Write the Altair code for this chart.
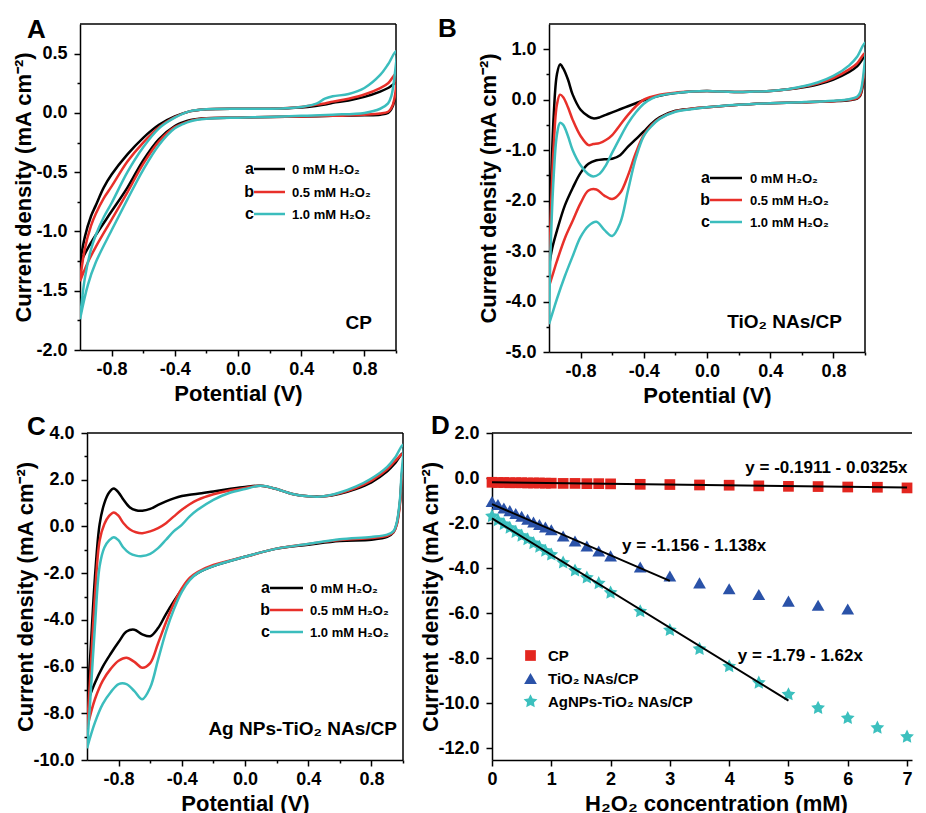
import altair as alt
import pandas as pd

FONT = "Liberation Sans"
CURVES = ["a", "b", "c"]
CURVE_COLORS = ["#000000", "#E8302A", "#3BBDBD"]
CURVE_LABELS = ["0 mM H₂O₂", "0.5 mM H₂O₂", "1.0 mM H₂O₂"]
Y_TITLE = "Current density (mA cm⁻²)"
X_TITLE_CV = "Potential (V)"

# ---------------- Panel A : CP ----------------
A_FWD_X = [-1.0, -0.97, -0.93, -0.9, -0.85, -0.8, -0.7, -0.6, -0.5, -0.4, -0.3, -0.2, 0.0, 0.2, 0.4, 0.5, 0.55, 0.6, 0.7, 0.8, 0.9, 0.95, 1.0]
A_FWD_a = [-1.27, -1.05, -0.87, -0.78, -0.63, -0.52, -0.35, -0.21, -0.10, -0.03, 0.015, 0.03, 0.035, 0.035, 0.045, 0.06, 0.07, 0.085, 0.105, 0.135, 0.18, 0.21, 0.25]
A_FWD_b = [-1.42, -1.15, -0.95, -0.85, -0.72, -0.62, -0.41, -0.25, -0.12, -0.035, 0.015, 0.03, 0.035, 0.035, 0.05, 0.07, 0.08, 0.095, 0.12, 0.155, 0.21, 0.25, 0.33]
A_FWD_c = [-1.74, -1.40, -1.15, -1.03, -0.88, -0.76, -0.50, -0.29, -0.13, -0.04, 0.015, 0.03, 0.035, 0.035, 0.05, 0.08, 0.12, 0.14, 0.16, 0.21, 0.32, 0.41, 0.52]
A_REV_X = [1.0, 0.99, 0.97, 0.95, 0.9, 0.8, 0.6, 0.4, 0.2, 0.0, -0.2, -0.3, -0.35, -0.4, -0.5, -0.6, -0.7, -0.8, -0.9, -0.95, -1.0]
A_REV_a = [0.25, 0.10, 0.03, 0.0, -0.015, -0.02, -0.025, -0.03, -0.035, -0.04, -0.045, -0.06, -0.08, -0.11, -0.22, -0.40, -0.63, -0.83, -1.03, -1.14, -1.27]
A_REV_b = [0.33, 0.12, 0.04, 0.01, -0.005, -0.015, -0.025, -0.03, -0.035, -0.04, -0.045, -0.065, -0.09, -0.12, -0.24, -0.43, -0.67, -0.90, -1.13, -1.26, -1.42]
A_REV_c = [0.52, 0.30, 0.14, 0.08, 0.035, 0.0, -0.015, -0.025, -0.035, -0.04, -0.05, -0.07, -0.095, -0.13, -0.27, -0.48, -0.73, -0.99, -1.26, -1.45, -1.74]

# ---------------- Panel B : TiO2 NAs/CP ----------------
B_FWD_X = [-1.0, -0.99, -0.97, -0.95, -0.93, -0.91, -0.88, -0.85, -0.8, -0.75, -0.72, -0.68, -0.64, -0.6, -0.55, -0.5, -0.45, -0.4, -0.35, -0.3, -0.2, -0.1, 0.0, 0.1, 0.2, 0.3, 0.4, 0.5, 0.6, 0.7, 0.8, 0.9, 0.95, 1.0]
B_FWD_a = [-3.3, -2.0, -0.3, 0.5, 0.7, 0.62, 0.4, 0.1, -0.2, -0.33, -0.37, -0.35, -0.3, -0.25, -0.19, -0.13, -0.07, -0.01, 0.04, 0.08, 0.13, 0.16, 0.17, 0.16, 0.15, 0.16, 0.17, 0.2, 0.24, 0.3, 0.4, 0.55, 0.66, 0.85]
B_FWD_b = [-3.7, -2.4, -0.9, -0.1, 0.1, 0.05, -0.15, -0.4, -0.72, -0.9, -0.88, -0.86, -0.8, -0.7, -0.5, -0.3, -0.13, 0.0, 0.06, 0.1, 0.14, 0.16, 0.17, 0.16, 0.15, 0.16, 0.17, 0.2, 0.25, 0.32, 0.43, 0.6, 0.72, 0.92]
B_FWD_c = [-4.45, -3.0, -1.5, -0.7, -0.46, -0.5, -0.72, -1.0, -1.3, -1.48, -1.52, -1.47, -1.3, -1.05, -0.75, -0.47, -0.25, -0.08, 0.02, 0.08, 0.13, 0.16, 0.17, 0.16, 0.15, 0.16, 0.17, 0.2, 0.26, 0.34, 0.47, 0.68, 0.85, 1.13]
B_REV_X = [1.0, 0.99, 0.97, 0.95, 0.9, 0.8, 0.6, 0.4, 0.2, 0.0, -0.1, -0.2, -0.3, -0.35, -0.4, -0.45, -0.5, -0.55, -0.6, -0.65, -0.7, -0.75, -0.8, -0.85, -0.9, -0.95, -0.98, -1.0]
B_REV_a = [0.85, 0.35, 0.08, 0.02, -0.01, -0.03, -0.05, -0.07, -0.10, -0.15, -0.18, -0.22, -0.35, -0.47, -0.63, -0.78, -0.93, -1.1, -1.17, -1.18, -1.2, -1.27, -1.45, -1.75, -2.1, -2.6, -2.95, -3.3]
B_REV_b = [0.92, 0.4, 0.1, 0.03, 0.0, -0.03, -0.05, -0.07, -0.10, -0.15, -0.18, -0.23, -0.37, -0.5, -0.7, -1.05, -1.5, -1.85, -1.97, -1.9, -1.78, -1.8, -2.05, -2.4, -2.75, -3.2, -3.5, -3.7]
B_REV_c = [1.13, 0.5, 0.15, 0.06, 0.01, -0.02, -0.05, -0.07, -0.10, -0.15, -0.19, -0.24, -0.38, -0.52, -0.72, -1.15, -1.8, -2.45, -2.7, -2.58, -2.42, -2.5, -2.72, -3.1, -3.5, -3.95, -4.25, -4.45]

# ---------------- Panel C : Ag NPs-TiO2 NAs/CP ----------------
C_FWD_X = [-1.0, -0.98, -0.95, -0.92, -0.89, -0.86, -0.83, -0.8, -0.77, -0.73, -0.69, -0.65, -0.6, -0.55, -0.5, -0.45, -0.4, -0.35, -0.3, -0.2, -0.1, 0.0, 0.1, 0.2, 0.3, 0.4, 0.5, 0.6, 0.7, 0.8, 0.9, 0.95, 1.0]
C_FWD_a = [-7.57, -5.6, -2.2, 0.1, 1.0, 1.45, 1.62, 1.45, 1.15, 0.82, 0.69, 0.67, 0.75, 0.92, 1.07, 1.2, 1.3, 1.36, 1.4, 1.5, 1.6, 1.69, 1.74, 1.6, 1.39, 1.29, 1.29, 1.4, 1.6, 1.89, 2.36, 2.71, 3.14]
C_FWD_b = [-8.64, -6.5, -3.0, -0.6, 0.1, 0.45, 0.6, 0.45, 0.15, -0.12, -0.25, -0.29, -0.21, -0.07, 0.14, 0.43, 0.71, 0.95, 1.14, 1.38, 1.54, 1.65, 1.74, 1.6, 1.39, 1.29, 1.29, 1.42, 1.64, 1.96, 2.45, 2.8, 3.1]
C_FWD_c = [-9.5, -7.5, -4.3, -1.7, -0.9, -0.6, -0.46, -0.6, -0.9, -1.15, -1.25, -1.27, -1.17, -0.93, -0.57, -0.2, 0.07, 0.43, 0.71, 1.14, 1.43, 1.6, 1.74, 1.6, 1.39, 1.29, 1.29, 1.45, 1.7, 2.05, 2.55, 2.95, 3.5]
C_REV_X = [1.0, 0.99, 0.98, 0.96, 0.94, 0.9, 0.8, 0.6, 0.4, 0.2, 0.0, -0.2, -0.3, -0.35, -0.4, -0.45, -0.5, -0.55, -0.6, -0.65, -0.7, -0.75, -0.8, -0.85, -0.9, -0.95, -1.0]
C_REV_a = [3.14, 2.0, 1.0, 0.1, -0.25, -0.45, -0.57, -0.62, -0.78, -0.95, -1.3, -1.7, -2.0, -2.25, -2.7, -3.2, -3.75, -4.35, -4.7, -4.62, -4.42, -4.5, -4.95, -5.45, -6.0, -6.7, -7.57]
C_REV_b = [3.1, 1.9, 0.9, 0.05, -0.25, -0.4, -0.5, -0.58, -0.75, -0.95, -1.3, -1.65, -1.95, -2.2, -2.65, -3.3, -4.1, -5.0, -5.85, -6.05, -5.8, -5.62, -5.75, -6.1, -6.6, -7.4, -8.64]
C_REV_c = [3.5, 2.2, 1.1, 0.15, -0.2, -0.35, -0.45, -0.55, -0.75, -0.95, -1.3, -1.7, -2.0, -2.3, -2.8, -3.55, -4.5, -5.7, -6.9, -7.4, -7.05, -6.75, -6.75, -7.1, -7.6, -8.4, -9.5]

# ---------------- Panel D : calibration ----------------
D_SERIES = ["CP", "TiO₂ NAs/CP", "AgNPs-TiO₂ NAs/CP"]
D_COLORS = ["#E3261F", "#2A52A8", "#3CC0BE"]
D_X_CP = [0, 0.1, 0.2, 0.3, 0.4, 0.5, 0.6, 0.7, 0.8, 0.9, 1.0, 1.2, 1.4, 1.6, 1.8, 2.0, 2.5, 3.0, 3.5, 4.0, 4.5, 5.0, 5.5, 6.0, 6.5, 7.0]
D_Y_CP = [-0.19, -0.20, -0.20, -0.21, -0.21, -0.21, -0.22, -0.22, -0.22, -0.23, -0.23, -0.24, -0.24, -0.25, -0.25, -0.26, -0.28, -0.29, -0.31, -0.32, -0.35, -0.37, -0.38, -0.40, -0.41, -0.44]
D_X_TIO2 = [0, 0.1, 0.2, 0.3, 0.4, 0.5, 0.6, 0.7, 0.8, 0.9, 1.0, 1.2, 1.4, 1.6, 1.8, 2.0, 2.5, 3.0, 3.5, 4.0, 4.5, 5.0, 5.5, 6.0]
D_Y_TIO2 = [-1.04, -1.18, -1.33, -1.45, -1.58, -1.70, -1.83, -1.95, -2.07, -2.18, -2.30, -2.58, -2.80, -3.02, -3.24, -3.46, -3.95, -4.35, -4.66, -4.92, -5.18, -5.47, -5.65, -5.82]
D_X_AG = [0, 0.1, 0.2, 0.3, 0.4, 0.5, 0.6, 0.7, 0.8, 0.9, 1.0, 1.2, 1.4, 1.6, 1.8, 2.0, 2.5, 3.0, 3.5, 4.0, 4.5, 5.0, 5.5, 6.0, 6.5, 7.0]
D_Y_AG = [-1.70, -1.88, -2.05, -2.22, -2.40, -2.57, -2.73, -2.90, -3.06, -3.24, -3.41, -3.76, -4.12, -4.43, -4.68, -5.10, -5.93, -6.76, -7.60, -8.37, -9.10, -9.62, -10.22, -10.67, -11.10, -11.50]
FIT_X_CP = [0, 7]
FIT_Y_CP = [-0.19, -0.42]
FIT_X_TIO2 = [0, 3]
FIT_Y_TIO2 = [-1.16, -4.57]
FIT_X_AG = [0, 5]
FIT_Y_AG = [-1.79, -9.89]
EQ_TEXT = ["y = -0.1911 - 0.0325x", "y = -1.156 - 1.138x", "y = -1.79 - 1.62x"]
EQ_X = [5.64, 3.41, 5.2]
EQ_Y = [0.44, -3.04, -7.93]

STAR = ("M0,-1L0.2939,-0.4045L0.9511,-0.309L0.4755,0.1545L0.5878,0.809L0,0.5"
        "L-0.5878,0.809L-0.4755,0.1545L-0.9511,-0.309L-0.2939,-0.4045Z")

X_TICKS_CV = [-0.8, -0.6, -0.4, -0.2, 0.0, 0.2, 0.4, 0.6, 0.8, 1.0]
A_Y_TICKS = [-2.0, -1.75, -1.5, -1.25, -1.0, -0.75, -0.5, -0.25, 0.0, 0.25, 0.5]
B_Y_TICKS = [-5.0, -4.5, -4.0, -3.5, -3.0, -2.5, -2.0, -1.5, -1.0, -0.5, 0.0, 0.5, 1.0]
C_Y_TICKS = [float(v) for v in range(-10, 5)]
D_Y_TICKS = [float(v) for v in range(-12, 3)]
D_X_TICKS = [v * 0.5 for v in range(15)]

ONE = pd.DataFrame({"k": [0]})


def make_axis(title, values, test, fmt, extent, title_pad, label_pad, **kw):
    return alt.Axis(
        title=title, values=values,
        labelExpr=f"({test}) ? replace(format(datum.value, '{fmt}'), '\u2212', '-') : ''",
        tickSize={"condition": {"test": test, "value": 6}, "value": 3},
        minExtent=extent, maxExtent=extent,
        titlePadding=title_pad, labelPadding=label_pad,
        labelOverlap=False, labelFlush=False, **kw)


def cv_df(fx, fys, rx, rys):
    rows = []
    for name, fy, ry in zip(CURVES, fys, rys):
        pts = list(zip(fx, fy)) + list(zip(rx, ry))[1:]
        for i, (x, y) in enumerate(pts):
            rows.append({"curve": name, "order": i, "x": x, "y": y})
    return pd.DataFrame(rows)


def text_at(txt, x, y, size, align="left", color="black"):
    return alt.Chart(ONE).mark_text(
        text=txt, fontSize=size, fontWeight="bold", align=align,
        baseline="alphabetic", color=color).encode(x=alt.value(x), y=alt.value(y))


def frame(w, h, right=True):
    layers = [alt.Chart(ONE).mark_rule(color="black", strokeWidth=1.5).encode(
        x=alt.value(0), x2=alt.value(w), y=alt.value(0))]
    if right:
        layers.append(alt.Chart(ONE).mark_rule(color="black", strokeWidth=1.5).encode(
            x=alt.value(w), y=alt.value(0), y2=alt.value(h)))
    return layers


def cv_panel(df, ydom, yticks, ytest, yext, w, h, letter, letter_xy, sample, sample_xy, leg_x, leg_y):
    xaxis = make_axis(X_TITLE_CV, X_TICKS_CV,
                      "abs(datum.value) < 0.95 && round(datum.value*10) % 4 == 0",
                      ".1f", 32, 1, 4)
    yaxis = make_axis(Y_TITLE, yticks, ytest, ".1f", yext, 2, 7)
    lines = alt.Chart(df).mark_line(strokeWidth=2.5, interpolate="catmull-rom", clip=True).encode(
        x=alt.X("x:Q", scale=alt.Scale(domain=[-1, 1], nice=False, zero=False), axis=xaxis),
        y=alt.Y("y:Q", scale=alt.Scale(domain=ydom, nice=False, zero=False), axis=yaxis),
        color=alt.Color("curve:N", scale=alt.Scale(domain=CURVES, range=CURVE_COLORS), legend=None),
        order="order:Q",
    )
    layers = frame(w, h) + [lines]
    layers.append(text_at(letter, letter_xy[0], letter_xy[1], 26))
    layers.append(text_at(sample, sample_xy[0], sample_xy[1], 19, align="right"))
    for i in range(3):
        yy = leg_y[i]
        layers.append(alt.Chart(ONE).mark_rule(color=CURVE_COLORS[i], strokeWidth=2.5).encode(
            x=alt.value(leg_x[0]), x2=alt.value(leg_x[1]), y=alt.value(yy)))
        layers.append(text_at(CURVES[i], leg_x[0], yy + 5, 16, align="right"))
        layers.append(text_at(CURVE_LABELS[i], leg_x[2], yy + 5, 13))
    return alt.layer(*layers).properties(width=w, height=h)


A_df = cv_df(A_FWD_X, [A_FWD_a, A_FWD_b, A_FWD_c], A_REV_X, [A_REV_a, A_REV_b, A_REV_c])
B_df = cv_df(B_FWD_X, [B_FWD_a, B_FWD_b, B_FWD_c], B_REV_X, [B_REV_a, B_REV_b, B_REV_c])
C_df = cv_df(C_FWD_X, [C_FWD_a, C_FWD_b, C_FWD_c], C_REV_X, [C_REV_a, C_REV_b, C_REV_c])

panel_A = cv_panel(A_df, [-2.0, 0.75], A_Y_TICKS, "round(datum.value*4) % 2 == 0", 43,
                   316, 326, "A", (-53, 14), "CP", (292, 305),
                   (174, 205, 212), (145, 168, 190))
panel_B = cv_panel(B_df, [-5.0, 1.5], B_Y_TICKS, "round(datum.value*2) % 2 == 0", 47,
                   316, 328, "B", (-111, 13), "TiO₂ NAs/CP", (293, 304),
                   (161, 193, 201), (154, 176, 198))
panel_C = cv_panel(C_df, [-10.0, 4.0], C_Y_TICKS, "round(datum.value) % 2 == 0", 48,
                   316, 327, "C", (-60, 2), "Ag NPs-TiO₂ NAs/CP", (310, 302),
                   (183, 216, 223), (155, 177, 199))

# ---- Panel D ----
D_W, D_H = 420, 327
pts_rows = []
for s, xs, ys in zip(D_SERIES, [D_X_CP, D_X_TIO2, D_X_AG], [D_Y_CP, D_Y_TIO2, D_Y_AG]):
    for x, y in zip(xs, ys):
        pts_rows.append({"series": s, "x": x, "y": y})
D_pts = pd.DataFrame(pts_rows)
fit_rows = []
for s, xs, ys in zip(D_SERIES, [FIT_X_CP, FIT_X_TIO2, FIT_X_AG], [FIT_Y_CP, FIT_Y_TIO2, FIT_Y_AG]):
    for x, y in zip(xs, ys):
        fit_rows.append({"series": s, "x": x, "y": y})
D_fit = pd.DataFrame(fit_rows)
D_eq = pd.DataFrame({"text": EQ_TEXT, "x": EQ_X, "y": EQ_Y})

d_xscale = alt.Scale(domain=[0, D_W / 59.29], nice=False, zero=False)
d_yscale = alt.Scale(domain=[-12.53, 2.0], nice=False, zero=False)
d_legend = alt.Legend(orient="none", legendX=31, legendY=215, title=None,
                      labelFontSize=15, labelFontWeight="bold", labelColor="black",
                      symbolStrokeWidth=0, symbolOpacity=1, padding=0, rowPadding=7,
                      labelOffset=10)

d_points = alt.Chart(D_pts).mark_point(filled=True, opacity=1, strokeWidth=0).encode(
    x=alt.X("x:Q", scale=d_xscale,
            axis=make_axis("H₂O₂ concentration (mM)", D_X_TICKS,
                           "round(datum.value*2) % 2 == 0", "d", 32, 1, 4, titleX=224)),
    y=alt.Y("y:Q", scale=d_yscale,
            axis=make_axis(Y_TITLE, D_Y_TICKS, "round(datum.value) % 2 == 0", ".1f", 48, 2, 7)),
    color=alt.Color("series:N", scale=alt.Scale(domain=D_SERIES, range=D_COLORS), legend=d_legend),
    shape=alt.Shape("series:N", scale=alt.Scale(domain=D_SERIES, range=["square", "triangle-up", STAR]), legend=d_legend),
    size=alt.Size("series:N", scale=alt.Scale(domain=D_SERIES, range=[115, 210, 430]), legend=d_legend),
)
d_fit = alt.Chart(D_fit).mark_line(color="black", strokeWidth=2).encode(
    x="x:Q", y="y:Q", detail="series:N")
d_eq = alt.Chart(D_eq).mark_text(fontSize=17, fontWeight="bold", color="black",
                                 align="center", baseline="middle").encode(
    x=alt.X("x:Q"), y=alt.Y("y:Q"), text="text:N")

panel_D = alt.layer(*(frame(D_W, D_H, right=False) + [d_points, d_fit, d_eq,
                      text_at("D", -61, 1, 26)])).properties(width=D_W, height=D_H)

# tiny invisible spacer: lets the lower row start a few pixels right of the upper one
spacer = alt.Chart(ONE).mark_text(text="").encode(
    x=alt.value(0), y=alt.value(0)).properties(width=1, height=1)

IND = dict(color="independent", shape="independent", size="independent")
row1 = alt.hconcat(panel_A, panel_B, spacing=41).resolve_scale(**IND).resolve_legend(**IND)
row2_inner = alt.hconcat(panel_C, panel_D, spacing=15).resolve_scale(**IND).resolve_legend(**IND)
row2 = alt.hconcat(spacer, row2_inner, spacing=-67).resolve_scale(**IND).resolve_legend(**IND)

chart = alt.vconcat(row1, row2, spacing=7).resolve_scale(**IND).resolve_legend(**IND).properties(
    padding={"left": 4, "top": 8, "right": 0, "bottom": 0}
).configure(font=FONT).configure_axis(
    labelFont=FONT, titleFont=FONT, labelFontSize=18, labelFontWeight="bold",
    labelColor="black", titleFontSize=22, titleFontWeight="bold", titleColor="black",
    domainColor="black", domainWidth=1.5, tickColor="black", tickWidth=1.5, grid=False,
).configure_legend(labelFont=FONT).configure_view(stroke=None)

chart.save("out.html", embed_options={"renderer": "svg", "actions": False})
